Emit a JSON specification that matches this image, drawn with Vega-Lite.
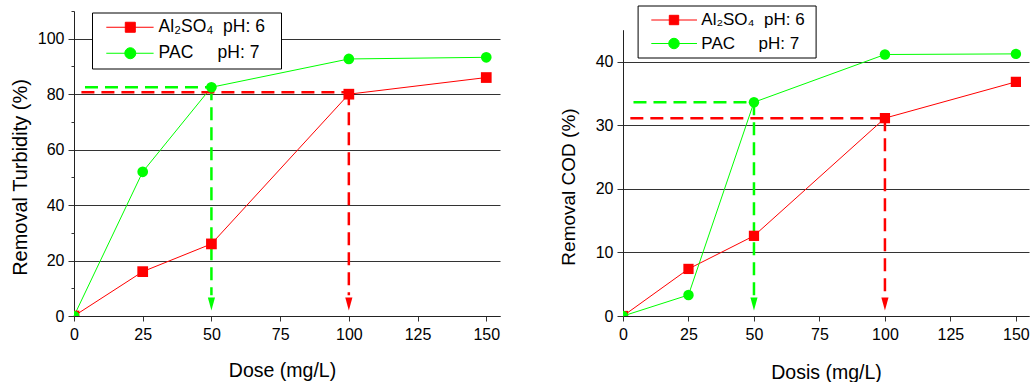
{
  "$schema": "https://vega.github.io/schema/vega-lite/v6.json",
  "padding": {"left": 10, "top": 5, "right": 0, "bottom": 0},
  "spacing": 59,
  "config": {
    "font": "Liberation Sans",
    "view": {"stroke": null},
    "axis": {
      "labelColor": "#000", "titleColor": "#000", "titleFontWeight": "normal",
      "labelFontSize": 16, "titleFontSize": 19.5, "domainColor": "#222", "tickColor": "#333",
      "gridColor": "#333", "gridWidth": 1, "labelFlush": false, "labelOverlap": false
    }
  },
  "resolve": {"scale": {"color": "independent"}, "legend": {"color": "independent"}},
  "hconcat": [
    {
      "width": 426, "height": 305,
      "data": {"values": [
        {"series": "Al2SO4", "dose": 0, "removal": 0},
        {"series": "Al2SO4", "dose": 25, "removal": 16},
        {"series": "Al2SO4", "dose": 50, "removal": 26},
        {"series": "Al2SO4", "dose": 100, "removal": 80},
        {"series": "Al2SO4", "dose": 150, "removal": 86},
        {"series": "PAC", "dose": 0, "removal": 0},
        {"series": "PAC", "dose": 25, "removal": 52},
        {"series": "PAC", "dose": 50, "removal": 82.5},
        {"series": "PAC", "dose": 100, "removal": 92.7},
        {"series": "PAC", "dose": 150, "removal": 93.3}
      ]},
      "resolve": {"axis": {"y": "independent"}},
      "layer": [
        {
          "mark": {"type": "line", "strokeWidth": 1},
          "encoding": {
            "x": {"field": "dose", "type": "quantitative", "scale": {"domain": [0, 155], "nice": false, "zero": false},
                  "axis": {"values": [0, 25, 50, 75, 100, 125, 150], "grid": false, "tickSize": 5, "labelPadding": 5, "title": "Dose (mg/L)", "titlePadding": 19, "titleX": 208}},
            "y": {"field": "removal", "type": "quantitative", "scale": {"domain": [0, 110], "nice": false},
                  "axis": {"orient": "left", "values": [0, 20, 40, 60, 80, 100], "grid": true, "tickSize": 6, "labelPadding": 4, "title": "Removal Turbidity (%)", "titleFontSize": 20, "titlePadding": 7, "titleY": 166}},
            "color": {"field": "series", "type": "nominal", "scale": {"domain": ["Al2SO4", "PAC"], "range": ["#ff0000", "#00ff00"]},
              "legend": {
                "orient": "none", "legendX": 18, "legendY": 1.5, "title": null,
                "strokeColor": "#000", "fillColor": "#fff", "padding": 6,
                "labelFontSize": 17.5, "labelColor": "#000", "labelOffset": 43.1, "labelLimit": 0,
                "symbolSize": 100, "symbolStrokeWidth": 1, "rowPadding": 7,
                "labelExpr": "datum.value === 'PAC' ? 'PAC\u00a0\u00a0\u00a0\u00a0\u00a0pH: 7\u00a0\u00a0\u200b' : 'Al₂SO₄\u00a0\u00a0pH: 6\u00a0\u00a0\u200b'",
                "encode": {"symbols": {"update": {
                  "shape": [{"test": "datum.value === 'PAC'", "value": "M-0.09,0H9.37M3.61,0A1.1,1.1 0 1,1 5.81,0A1.1,1.1 0 1,1 3.61,0Z"}, {"value": "M-0.09,0H9.37M3.71,-1H5.71V1H3.71Z"}],
                  "fill": [{"test": "datum.value === 'PAC'", "value": "#00ff00"}, {"value": "#ff0000"}],
                  "stroke": [{"test": "datum.value === 'PAC'", "value": "#00ff00"}, {"value": "#ff0000"}],
                  "strokeWidth": {"value": 1},
                  "opacity": {"value": 1}
                }}}
              }}
          }
        },
        {
          "data": {"values": [
            {"series": "PAC", "x0": 4, "x1": 50, "y0": 82.5, "y1": 82.5},
            {"series": "PAC", "x0": 50, "x1": 50, "y0": 82.5, "y1": 7.5},
            {"series": "Al2SO4", "x0": 2.7, "x1": 100, "y0": 80.7, "y1": 80.7},
            {"series": "Al2SO4", "x0": 100, "x1": 100, "y0": 80.7, "y1": 7.5}
          ]},
          "mark": {"type": "rule", "strokeWidth": 2.5, "strokeDash": [13, 7]},
          "encoding": {
            "x": {"field": "x0", "type": "quantitative"},
            "x2": {"field": "x1"},
            "y": {"field": "y0", "type": "quantitative",
                  "axis": {"orient": "left", "values": [10, 30, 50, 70, 90, 110], "grid": false, "domain": false, "tickSize": 3, "labels": false, "title": null}},
            "y2": {"field": "y1"},
            "color": {"field": "series", "type": "nominal"}
          }
        },
        {
          "data": {"values": [
            {"series": "PAC", "dose": 50, "removal": 4.3},
            {"series": "Al2SO4", "dose": 100, "removal": 4.3}
          ]},
          "mark": {"type": "point", "filled": true, "opacity": 1, "size": 169, "shape": "M-0.55,-1L0.55,-1L0,1Z"},
          "encoding": {
            "x": {"field": "dose", "type": "quantitative"},
            "y": {"field": "removal", "type": "quantitative", "axis": null},
            "color": {"field": "series", "type": "nominal"}
          }
        },
        {
          "transform": [{"filter": "datum.series === 'Al2SO4'"}],
          "mark": {"type": "point", "filled": true, "opacity": 1, "size": 115, "shape": "square", "clip": true},
          "encoding": {
            "x": {"field": "dose", "type": "quantitative"},
            "y": {"field": "removal", "type": "quantitative", "axis": null},
            "color": {"field": "series", "type": "nominal"}
          }
        },
        {
          "transform": [{"filter": "datum.series === 'PAC'"}],
          "mark": {"type": "point", "filled": true, "opacity": 1, "size": 115, "shape": "circle", "clip": true},
          "encoding": {
            "x": {"field": "dose", "type": "quantitative"},
            "y": {"field": "removal", "type": "quantitative", "axis": null},
            "color": {"field": "series", "type": "nominal"}
          }
        }
      ]
    },
    {
      "width": 406, "height": 305,
      "data": {"values": [
        {"series": "Al2SO4", "dose": 0, "removal": 0},
        {"series": "Al2SO4", "dose": 25, "removal": 7.4},
        {"series": "Al2SO4", "dose": 50, "removal": 12.6},
        {"series": "Al2SO4", "dose": 100, "removal": 31.1},
        {"series": "Al2SO4", "dose": 150, "removal": 36.8},
        {"series": "PAC", "dose": 0, "removal": 0},
        {"series": "PAC", "dose": 25, "removal": 3.3},
        {"series": "PAC", "dose": 50, "removal": 33.6},
        {"series": "PAC", "dose": 100, "removal": 41.1},
        {"series": "PAC", "dose": 150, "removal": 41.2}
      ]},
      "layer": [
        {
          "mark": {"type": "line", "strokeWidth": 1},
          "encoding": {
            "x": {"field": "dose", "type": "quantitative", "scale": {"domain": [0, 155], "nice": false, "zero": false},
                  "axis": {"values": [0, 25, 50, 75, 100, 125, 150], "grid": false, "tickSize": 5, "labelPadding": 5, "title": "Dosis (mg/L)", "titlePadding": 21}},
            "y": {"field": "removal", "type": "quantitative", "scale": {"domain": [0, 45], "nice": false, "range": [305, 18.7]},
                  "axis": {"values": [0, 5, 10, 15, 20, 25, 30, 35, 40, 45], "grid": true, "gridOpacity": {"condition": {"test": "datum.value == 45", "value": 0}, "value": 1}, "tickSize": 6, "labelPadding": 4, "title": "Removal COD (%)", "titleFontSize": 19, "titlePadding": 17, "titleY": 175.5}},
            "color": {"field": "series", "type": "nominal", "scale": {"domain": ["Al2SO4", "PAC"], "range": ["#ff0000", "#00ff00"]},
              "legend": {
                "orient": "none", "legendX": 14.6, "legendY": -5.5, "title": null,
                "strokeColor": "#000", "fillColor": "#fff", "padding": 6,
                "labelFontSize": 17, "labelColor": "#000", "labelOffset": 40.7, "labelLimit": 0,
                "symbolSize": 100, "symbolStrokeWidth": 1, "rowPadding": 5.5,
                "labelExpr": "datum.value === 'PAC' ? 'PAC\u00a0\u00a0\u00a0\u00a0\u00a0pH: 7\u00a0\u200b' : 'Al₂SO₄\u00a0\u00a0pH: 6\u00a0\u200b'",
                "encode": {"symbols": {"update": {
                  "shape": [{"test": "datum.value === 'PAC'", "value": "M-0.16,0H8.98M3.33,0A1.05,1.05 0 1,1 5.43,0A1.05,1.05 0 1,1 3.33,0Z"}, {"value": "M-0.16,0H8.98M3.44,-0.94H5.32V0.94H3.44Z"}],
                  "fill": [{"test": "datum.value === 'PAC'", "value": "#00ff00"}, {"value": "#ff0000"}],
                  "stroke": [{"test": "datum.value === 'PAC'", "value": "#00ff00"}, {"value": "#ff0000"}],
                  "strokeWidth": {"value": 1},
                  "opacity": {"value": 1}
                }}}
              }}
          }
        },
        {
          "data": {"values": [
            {"series": "PAC", "x0": 4, "x1": 50, "y0": 33.6, "y1": 33.6},
            {"series": "PAC", "x0": 50, "x1": 50, "y0": 33.6, "y1": 3.0},
            {"series": "Al2SO4", "x0": 2.8, "x1": 100, "y0": 31.1, "y1": 31.1},
            {"series": "Al2SO4", "x0": 100, "x1": 100, "y0": 31.1, "y1": 3.0}
          ]},
          "mark": {"type": "rule", "strokeWidth": 2.5, "strokeDash": [13, 7]},
          "encoding": {
            "x": {"field": "x0", "type": "quantitative"},
            "x2": {"field": "x1"},
            "y": {"field": "y0", "type": "quantitative"},
            "y2": {"field": "y1"},
            "color": {"field": "series", "type": "nominal"}
          }
        },
        {
          "data": {"values": [
            {"series": "PAC", "dose": 50, "removal": 1.9},
            {"series": "Al2SO4", "dose": 100, "removal": 1.9}
          ]},
          "mark": {"type": "point", "filled": true, "opacity": 1, "size": 169, "shape": "M-0.55,-1L0.55,-1L0,1Z"},
          "encoding": {
            "x": {"field": "dose", "type": "quantitative"},
            "y": {"field": "removal", "type": "quantitative"},
            "color": {"field": "series", "type": "nominal"}
          }
        },
        {
          "transform": [{"filter": "datum.series === 'Al2SO4'"}],
          "mark": {"type": "point", "filled": true, "opacity": 1, "size": 105, "shape": "square", "clip": true},
          "encoding": {
            "x": {"field": "dose", "type": "quantitative"},
            "y": {"field": "removal", "type": "quantitative"},
            "color": {"field": "series", "type": "nominal"}
          }
        },
        {
          "transform": [{"filter": "datum.series === 'PAC'"}],
          "mark": {"type": "point", "filled": true, "opacity": 1, "size": 110, "shape": "circle", "clip": true},
          "encoding": {
            "x": {"field": "dose", "type": "quantitative"},
            "y": {"field": "removal", "type": "quantitative"},
            "color": {"field": "series", "type": "nominal"}
          }
        }
      ]
    }
  ]
}
